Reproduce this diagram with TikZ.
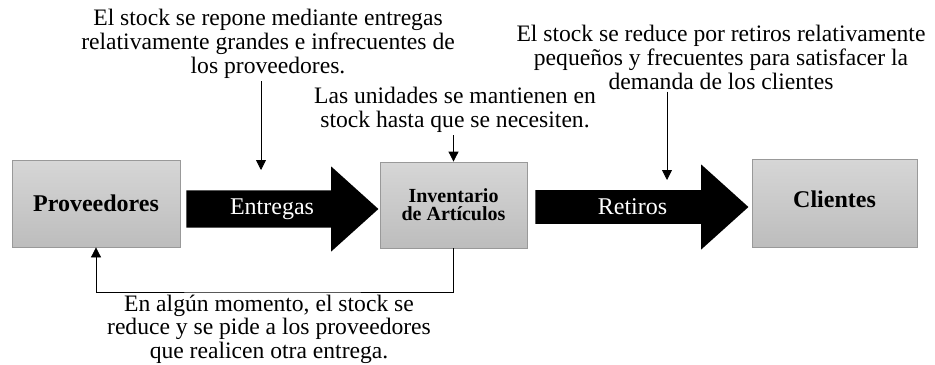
\documentclass[tikz,border=0pt]{standalone}
\usepackage{fontspec}
\setmainfont{Liberation Serif}
\usetikzlibrary{shapes,shapes.arrows,arrows.meta}
\tikzstyle{caja}=[rectangle,draw=black!40,top color=black!16,bottom color=black!26,inner sep=2pt]
\tikzstyle{flecha}=[single arrow,fill=black,text=white,minimum width=42.5pt,single arrow head extend=9.5pt,single arrow tip angle=84,inner sep=2pt,font=\fontsize{12}{13}\selectfont]
\tikzstyle{nota}=[align=center,inner sep=1pt,font=\fontsize{11.8}{12}\selectfont]
\tikzstyle{puntero}=[thin,-{Triangle[width=5pt,length=5pt]}]

\begin{document}
\begin{tikzpicture}[x=0.5pt,y=-0.5pt]
\useasboundingbox (0,0) rectangle (935,364);
\node[caja,minimum width=84pt,minimum height=43.5pt,font=\bfseries\fontsize{12}{13}\selectfont] (prov) at (96,203.5) {Proveedores};
\node[caja,minimum width=73.5pt,minimum height=43pt,align=center,font=\bfseries\fontsize{10}{9}\selectfont] (inv) at (453.5,205) {Inventario\\de Artículos};
\node[caja,minimum width=82.5pt,minimum height=44pt,font=\bfseries\fontsize{12}{13}\selectfont] (cli) at (834.5,203) {\raisebox{4pt}{Clientes}};
\node[flecha,minimum height=96pt,anchor=tail] (entregas) at (186,209) {Entregas};
\node[flecha,minimum height=106.5pt,anchor=tail] (retiros) at (535,207) {Retiros};
\node[nota] (txtrepone) at (268,44) {El stock se repone mediante entregas\\relativamente grandes e infrecuentes de\\los proveedores.};
\node[nota] (txtunidades) at (455,110) {Las unidades se mantienen en\\stock hasta que se necesiten.};
\node[nota] (txtreduce) at (721,57) {El stock se reduce por retiros relativamente\\pequeños y frecuentes para satisfacer la\\demanda de los clientes};
\node[nota,font=\fontsize{11.8}{10.5}\selectfont] (txtpide) at (269,329) {En algún momento, el stock se\\reduce y se pide a los proveedores\\que realicen otra entrega.};
\coordinate (pA) at (261,170);
\coordinate (pB) at (667,180);
\coordinate (fb) at (270,292);
\draw[puntero] (txtrepone.south -| pA) -- (pA);
\draw[puntero] (txtunidades.south -| inv.north) -- (inv.north);
\draw[puntero] (txtreduce.south -| pB) -- (pB);
\draw[puntero] (inv.south) |- (fb) -| (prov.south);
\end{tikzpicture}
\end{document}
